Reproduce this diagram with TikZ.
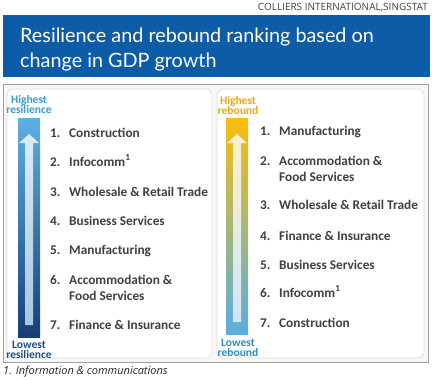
\documentclass[tikz,border=0pt]{standalone}
\usepackage{fontspec}
\setmainfont{Carlito}
\newfontfamily\titlefont{Lato}
\newfontfamily\srcfont{Open Sans}
\definecolor{banner}{HTML}{0D5CA8}
\definecolor{itemgray}{HTML}{404040}
\definecolor{hiblue}{HTML}{3C9BD6}
\definecolor{loblue}{HTML}{1F4E8C}
\definecolor{higold}{HTML}{E8A817}
\definecolor{lorebound}{HTML}{2D8CD0}
\definecolor{framegray}{HTML}{A0A0A0}
\definecolor{barAtop}{HTML}{5FB0E2}
\definecolor{barAbot}{HTML}{163E78}
\definecolor{arrAtop}{HTML}{DCECF8}
\definecolor{arrAbot}{HTML}{A6C6E0}
\definecolor{barBtop}{HTML}{F8BE0A}
\definecolor{barBmid}{HTML}{C9BF9C}
\definecolor{barBbot}{HTML}{5AAEE2}
\definecolor{arrBtop}{HTML}{FBF0CF}
\definecolor{arrBbot}{HTML}{CFE6F5}
\tikzset{
  item/.style={anchor=base west, font=\bfseries\fontsize{13.3}{15}\selectfont, text=itemgray, inner sep=0pt},
  endlabel/.style={align=center, font=\bfseries\fontsize{11.5}{10.5}\selectfont, inner sep=0pt},
  panel/.style={draw=gray!25, fill=white, rounded corners=6pt, line width=0.8pt},
  titletext/.style={anchor=base west, inner sep=0pt, text=white, font=\titlefont\fontsize{19.8}{24}\selectfont},
}
\begin{document}
\begin{tikzpicture}[x=1pt,y=-1pt]
\useasboundingbox (0,0) rectangle (432,380);
\fill[white] (0,0) rectangle (432,380);
% source
\node[anchor=base east, inner sep=0pt, font=\srcfont\fontsize{10}{11}\selectfont, text=black!75] (src) at (428,10) {COLLIERS INTERNATIONAL,SINGSTAT};
% banner
\fill[banner] (3,15) rectangle (430,77);
\node[titletext] (t1) at (20,42) {Resilience and rebound ranking based on};
\node[titletext] (t2) at (20,67) {change in GDP growth};
% frame
\fill[gray!6] (3,84) rectangle (428,362);
\draw[framegray, line width=1pt] (3,84) rectangle (428,362);
\draw[panel] (7,89) rectangle (212,358);
\draw[panel] (217,89) rectangle (424,358);
% left bar
\shade[top color=barAtop, bottom color=barAbot] (18,118) rectangle (40,337);
\shade[top color=arrAtop, bottom color=arrAbot] (25,325) -- (25,143) -- (19,143) -- (29,134) -- (39,143) -- (33,143) -- (33,325) -- cycle;
\node[endlabel, anchor=north, text=hiblue] (hl) at (29,95) {Highest\\resilience};
\node[endlabel, anchor=south, text=loblue] (ll) at (29,359) {Lowest\\resilience};
% left items
\node[item] (ln1) at (50,137) {1.}; \node[item] (li1) at (69,137) {Construction};
\node[item] (ln2) at (50,166) {2.}; \node[item] (li2) at (69,166) {Infocomm\textsuperscript{1}};
\node[item] (ln3) at (50,196) {3.}; \node[item] (li3) at (69,196) {Wholesale \& Retail Trade};
\node[item] (ln4) at (50,225) {4.}; \node[item] (li4) at (69,225) {Business Services};
\node[item] (ln5) at (50,254) {5.}; \node[item] (li5) at (69,254) {Manufacturing};
\node[item] (ln6) at (50,284) {6.}; \node[item] (li6) at (69,284) {Accommodation \&};
\node[item] (li6b) at (69,300) {Food Services};
\node[item] (ln7) at (50,329) {7.}; \node[item] (li7) at (69,329) {Finance \& Insurance};
% right bar
\shade[top color=barBtop, middle color=barBmid, bottom color=barBbot] (226,118) rectangle (248,334);
\shade[top color=arrBtop, bottom color=arrBbot] (233,322) -- (233,143) -- (227,143) -- (237,134) -- (247,143) -- (241,143) -- (241,322) -- cycle;
\node[endlabel, anchor=north, text=higold] (hr) at (238,96) {Highest\\rebound};
\node[endlabel, anchor=south, text=lorebound] (lr) at (238,357) {Lowest\\rebound};
% right items
\node[item] (rn1) at (260,135) {1.}; \node[item] (ri1) at (279,135) {Manufacturing};
\node[item] (rn2) at (260,165) {2.}; \node[item] (ri2) at (279,165) {Accommodation \&};
\node[item] (ri2b) at (279,181) {Food Services};
\node[item] (rn3) at (260,209) {3.}; \node[item] (ri3) at (279,209) {Wholesale \& Retail Trade};
\node[item] (rn4) at (260,240) {4.}; \node[item] (ri4) at (279,240) {Finance \& Insurance};
\node[item] (rn5) at (260,269) {5.}; \node[item] (ri5) at (279,269) {Business Services};
\node[item] (rn6) at (260,297) {6.}; \node[item] (ri6) at (279,297) {Infocomm\textsuperscript{1}};
\node[item] (rn7) at (260,327) {7.}; \node[item] (ri7) at (279,327) {Construction};
% footnote
\node[anchor=base west, inner sep=0pt, font=\srcfont\itshape\fontsize{11}{13}\selectfont, text=black!85] (fn) at (3,374) {1. Information \& communications};
\end{tikzpicture}
\end{document}
